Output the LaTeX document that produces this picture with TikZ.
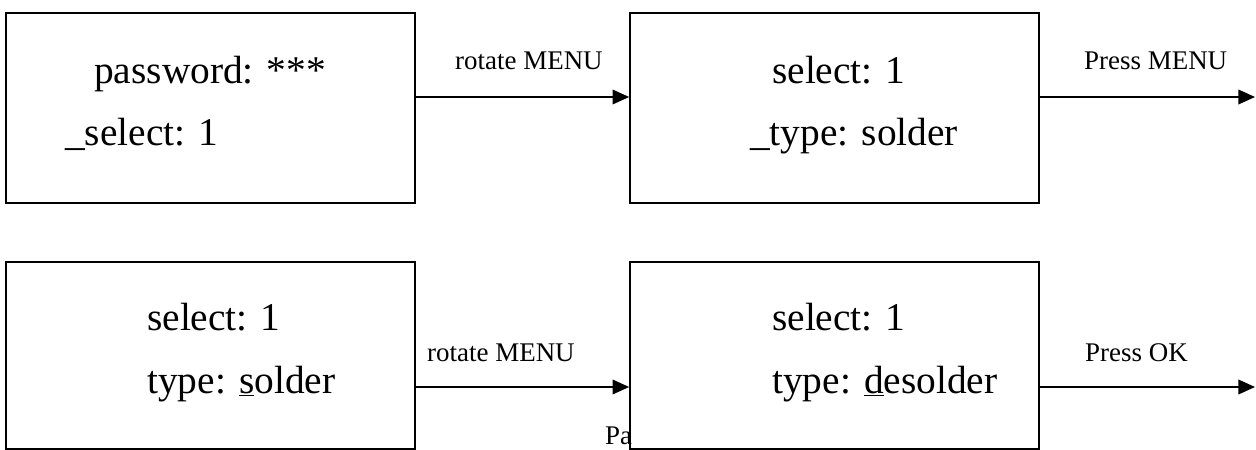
\documentclass[tikz,border=0pt]{standalone}
\usepackage{fontspec}
\setmainfont{Liberation Serif}
\usetikzlibrary{arrows.meta}

\tikzset{
	screen/.style={draw, line width=1.4pt, inner sep=0pt, minimum width=12.27cm},
	entry/.style={anchor=base west, inner sep=0pt, font=\fontsize{33.6}{36}\selectfont},
	action/.style={anchor=base west, inner sep=0pt, font=\fontsize{23}{26}\selectfont},
	flow/.style={line width=1.4pt, -{Triangle[length=5mm, width=4.4mm]}}
}

\begin{document}
\begin{tikzpicture}[x=0.03cm, y=-0.03cm]
		\useasboundingbox (0,0) rectangle (1256,450);
		% the four screens
		\node[screen, minimum height=5.7cm] (pass) at (210.5,108) {};
		\node[screen, minimum height=5.7cm] (type) at (834.5,108) {};
		\node[screen, minimum height=5.61cm] (solder) at (210.5,355.5) {};
		\node[screen, minimum height=5.61cm] (desolder) at (834.5,355.5) {};
		% screen texts
		\node[entry] (pass1) at (94,84) {password: ***};
		\node[entry] (pass2) at (65,145) {\_select: 1};
		\node[entry] (type1) at (772,84) {select: 1};
		\node[entry] (type2) at (750,145) {\_type: solder};
		\node[entry] (solder1) at (147,330) {select: 1};
		\node[entry] (solder2) at (147,393) {type: \underline{s}older};
		\node[entry] (desolder1) at (772,330) {select: 1};
		\node[entry] (desolder2) at (772,393) {type: \underline{d}esolder};
		% transitions
		\coordinate (out1) at (1255,97);
		\coordinate (out2) at (1255,387);
		\draw[flow] (pass.east |- out1) -- (type.west |- out1);
		\draw[flow] (type.east |- out1) -- (out1);
		\draw[flow] (solder.east |- out2) -- (desolder.west |- out2);
		\draw[flow] (desolder.east |- out2) -- (out2);
		\node[action] (rot1) at (455,70) {rotate MENU};
		\node[action] (menu) at (1084,70) {Press MENU};
		\node[action] (rot2) at (427,361) {rotate MENU};
		\node[action] (ok) at (1085,361) {Press OK};
		\node[action] (page) at (605,444) {Pa};
\end{tikzpicture}
\end{document}
